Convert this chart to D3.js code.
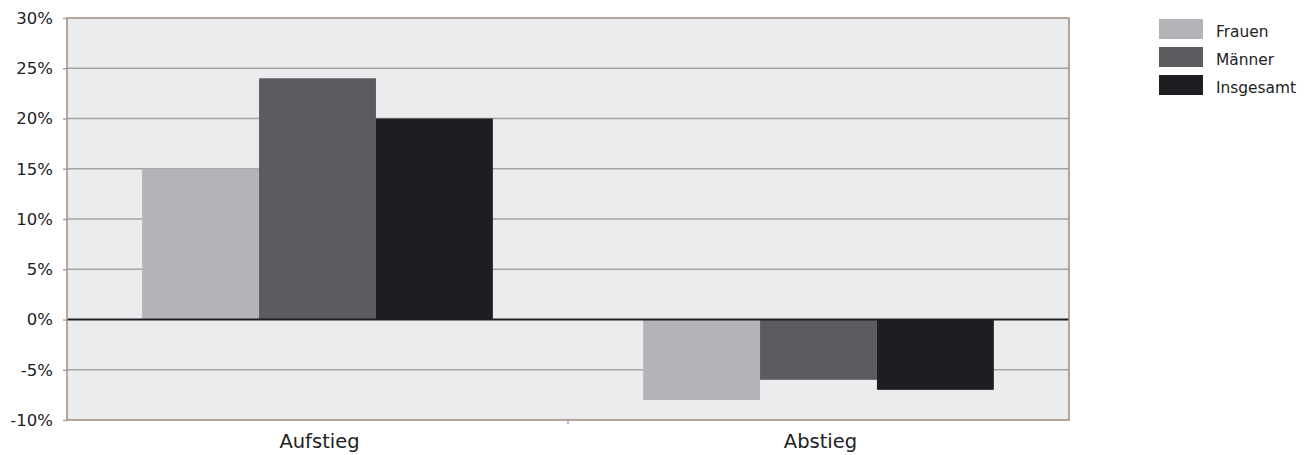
<!DOCTYPE html>
<html><head><meta charset="utf-8">
<script src="https://cdn.jsdelivr.net/npm/d3@7"></script>
<style>body{margin:0;background:#fff;} text{font-family:"DejaVu Sans",sans-serif;}</style>
</head><body><svg id="c" width="1311" height="455"></svg>
<script>
const categories = ["Aufstieg", "Abstieg"];
const seriesNames = ["Frauen", "Männer", "Insgesamt"];
const frauen = [15, -8];
const maenner = [24, -6];
const insgesamt = [20, -7];
const yTicks = [-10, -5, 0, 5, 10, 15, 20, 25, 30];
const colors = ["#b3b4b8", "#5c5b60", "#1d1e21"];

const seriesValues = [frauen, maenner, insgesamt];
const svg = d3.select("#c");
const m = {left: 67, right: 1069, top: 18, bottom: 420};

const x0 = d3.scaleBand().domain(categories).range([m.left, m.right]).paddingInner(0.3).paddingOuter(0.15);
const x1 = d3.scaleBand().domain(seriesNames).range([0, x0.bandwidth()]);
const y = d3.scaleLinear().domain([-10, 30]).range([m.bottom, m.top]);
const xc = d3.scaleBand().domain(categories).range([m.left, m.right]);

svg.append("rect").attr("x", m.left).attr("y", m.top).attr("width", m.right - m.left).attr("height", m.bottom - m.top).attr("fill", "#ebecee");

// gridlines
svg.append("g").selectAll("line").data(yTicks.filter(t => t !== 0 && t !== -10 && t !== 30)).join("line")
  .attr("x1", m.left).attr("x2", m.right).attr("y1", d => y(d)).attr("y2", d => y(d))
  .attr("stroke", "#a3a3a5").attr("stroke-width", 1.5);

// bars
const g = svg.append("g");
categories.forEach((c, i) => {
  seriesNames.forEach((s, j) => {
    const v = seriesValues[j][i];
    g.append("rect").attr("x", x0(c) + x1(s)).attr("width", x1.bandwidth())
      .attr("y", y(Math.max(0, v))).attr("height", Math.abs(y(v) - y(0)))
      .attr("fill", colors[j]);
  });
});

// zero line
svg.append("line").attr("x1", m.left).attr("x2", m.right).attr("y1", y(0)).attr("y2", y(0)).attr("stroke", "#1d1e21").attr("stroke-width", 2);

// border
svg.append("rect").attr("x", m.left).attr("y", m.top).attr("width", m.right - m.left).attr("height", m.bottom - m.top)
  .attr("fill", "none").attr("stroke", "#a08a80").attr("stroke-width", 1.5);

// y axis
const yAxis = d3.axisLeft(y).tickValues(yTicks).tickFormat(d => d + "%").tickSize(4).tickPadding(10);
const ya = svg.append("g").attr("transform", `translate(${m.left},0)`).call(yAxis);
ya.select(".domain").remove();
ya.selectAll(".tick line").attr("stroke", "#a3a3a5").attr("stroke-width", 1.5);
ya.selectAll("text").attr("font-size", 16.5).attr("fill", "#222");

// x axis
const xAxis = d3.axisBottom(xc).tickSize(0).tickPadding(0);
const xa = svg.append("g").attr("transform", `translate(0,${m.bottom})`).call(xAxis);
xa.select(".domain").remove();
xa.selectAll("text").attr("font-size", 19.5).attr("fill", "#222").attr("y", 28).attr("dy", 0).attr("dx", 2);
// category separator tick
svg.append("g").selectAll("line").data(categories.slice(1)).join("line")
  .attr("x1", d => xc(d)).attr("x2", d => xc(d)).attr("y1", m.bottom).attr("y2", m.bottom + 4)
  .attr("stroke", "#a3a3a5").attr("stroke-width", 1.5);

// legend
const lg = svg.append("g").attr("transform", "translate(1159,19)");
seriesNames.forEach((s, i) => {
  lg.append("rect").attr("x", 0).attr("y", i * 28).attr("width", 44).attr("height", 20).attr("fill", colors[i]);
  lg.append("text").attr("x", 57).attr("y", i * 28 + 17.7).attr("font-size", 15.4).attr("fill", "#222").text(s);
});
</script></body></html>
